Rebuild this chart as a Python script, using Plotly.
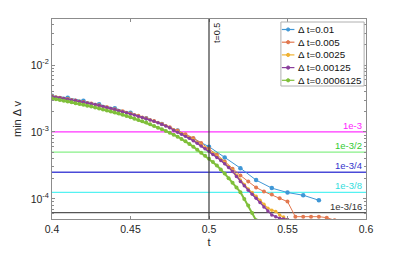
import numpy as np
import plotly.graph_objects as go

# ---------------- data (min Δv) ----------------
t_dt01 = [0.40, 0.41, 0.42, 0.43, 0.44, 0.45, 0.46, 0.47, 0.48, 0.49,
          0.50, 0.51, 0.52, 0.53, 0.54, 0.55, 0.56, 0.57]
v_dt01 = [34.7, 32.4, 29.2, 26.0, 22.6, 19.3, 16.0, 13.2, 10.5, 7.94,
          6.03, 4.17, 2.88, 1.91, 1.45, 1.245, 1.135, 0.955]          # x 1e-4

t_dt005 = [0.400, 0.405, 0.410, 0.415, 0.420, 0.425, 0.430, 0.435, 0.440, 0.445,
           0.450, 0.455, 0.460, 0.465, 0.470, 0.475, 0.480, 0.485, 0.490, 0.495,
           0.500, 0.505, 0.510, 0.515, 0.520, 0.525, 0.530, 0.535, 0.540, 0.545,
           0.550, 0.555, 0.560, 0.565, 0.570, 0.575, 0.580]
v_dt005 = [34.2, 32.5, 31.0, 29.5, 28.1, 26.5, 25.0, 23.4, 21.9, 20.3,
           18.8, 17.5, 16.0, 14.6, 13.2, 11.8, 10.5, 9.23, 8.13, 6.84,
           5.62, 4.57, 3.63, 2.82, 2.24, 1.82, 1.48, 1.29, 1.16, 1.02,
           0.912, 0.543, 0.543, 0.543, 0.543, 0.525, 0.479]            # x 1e-4

v_dt0025 = [34.0, 33.2, 32.5, 31.7, 31.0, 30.2, 29.5, 28.7, 28.0, 27.2,
            26.4, 25.7, 24.9, 24.1, 23.3, 22.5, 21.7, 20.9, 20.2, 19.5,
            18.7, 18.0, 17.3, 16.6, 15.9, 15.2, 14.5, 13.8, 13.1, 12.4,
            11.7, 10.8, 10.1, 9.45, 8.84, 8.26, 7.64, 6.98, 6.38, 5.80,
            5.30, 4.78, 4.32, 3.88, 3.47, 3.05, 2.66, 2.26, 1.91, 1.64,
            1.41, 1.245, 1.10, 0.955, 0.832, 0.724, 0.676, 0.646, 0.575, 0.537,
            0.490]                                                      # x 1e-4

v_dt00125 = [33.9, 33.1, 32.4, 31.6, 30.9, 30.1, 29.4, 28.6, 27.9, 27.1,
             26.3, 25.6, 24.8, 24.0, 23.2, 22.4, 21.6, 20.8, 20.1, 19.4,
             18.6, 17.9, 17.2, 16.5, 15.8, 15.1, 14.4, 13.7, 13.0, 12.3,
             11.6, 10.6, 9.89, 9.23, 8.61, 8.04, 7.41, 6.76, 6.17, 5.62,
             5.13, 4.62, 4.17, 3.76, 3.35, 2.95, 2.57, 2.16, 1.82, 1.57,
             1.35, 1.17, 1.02, 0.881, 0.759, 0.661, 0.575, 0.543, 0.513, 0.501,
             0.490]                                                     # x 1e-4

v_dt0006 = [31.6, 30.8, 30.1, 29.3, 28.5, 27.7, 26.9, 26.2, 25.4, 24.6,
            23.9, 23.1, 22.4, 21.6, 20.9, 20.2, 19.5, 18.8, 18.0, 17.3,
            16.6, 15.8, 15.1, 14.5, 13.8, 13.0, 12.3, 11.6, 11.0, 10.35,
            9.77, 9.12, 8.51, 7.85, 7.24, 6.61, 6.03, 5.43, 4.90, 4.42,
            3.98, 3.55, 3.16, 2.75, 2.40, 2.04, 1.74, 1.48, 1.26, 1.00,
            0.794, 0.617, 0.479]                                        # x 1e-4

dense_t0 = 0.40
dense_step = 0.0025
value_unit = 1e-4

series_names = ["Δ t=0.01", "Δ t=0.005", "Δ t=0.0025", "Δ t=0.00125", "Δ t=0.0006125"]
series_colors = ["#3f97d6", "#e2784f", "#f0b232", "#8a3f9c", "#7fbf3a"]

thresholds = [1e-3, 1e-3 / 2, 1e-3 / 4, 1e-3 / 8, 1e-3 / 16]
threshold_labels = ["1e-3", "1e-3/2", "1e-3/4", "1e-3/8", "1e-3/16"]
threshold_colors = ["#ff33ff", "#88f088", "#4a4ad8", "#55f2f2", "#555555"]
threshold_text_colors = ["#ff22ff", "#33cc33", "#3333cc", "#33dddd", "#333333"]

t_mark = 0.5
x_ticks = [0.4, 0.45, 0.5, 0.55, 0.6]
y_ticks = [1e-4, 1e-3, 1e-2]
y_ticktext = ["10<sup>-4</sup>", "10<sup>-3</sup>", "10<sup>-2</sup>"]


def dense_t(vals):
    return [round(dense_t0 + dense_step * i, 6) for i in range(len(vals))]


FONT = "Liberation Sans, Arial, Helvetica, sans-serif"

fig = go.Figure()

series = [
    (t_dt01, v_dt01, 4.5, 1.0),
    (t_dt005, v_dt005, 4.0, 1.0),
    (dense_t(v_dt0025), v_dt0025, 3.5, 1.2),
    (dense_t(v_dt00125), v_dt00125, 3.5, 1.4),
    (dense_t(v_dt0006), v_dt0006, 4.0, 2.0),
]
for (tx, vy, ms, lw), name, col in zip(series, series_names, series_colors):
    fig.add_trace(go.Scatter(
        x=tx, y=np.array(vy) * value_unit, name=name, mode="lines+markers",
        line=dict(color=col, width=lw),
        marker=dict(color=col, size=ms, symbol="circle"),
        showlegend=False,
    ))

# threshold lines and labels
for val, lab, lc, tc in zip(thresholds, threshold_labels, threshold_colors, threshold_text_colors):
    fig.add_shape(type="line", xref="paper", x0=0, x1=1, yref="y", y0=val, y1=val,
                  line=dict(color=lc, width=1.3), layer="below")
    fig.add_annotation(text=lab, xref="paper", x=0.995, xanchor="right",
                       yref="y", y=np.log10(val), yanchor="bottom", yshift=-1,
                       showarrow=False, font=dict(family=FONT, size=9.5, color=tc))

# vertical line t = 0.5
fig.add_shape(type="line", xref="x", x0=t_mark, x1=t_mark, yref="paper", y0=0, y1=1,
              line=dict(color="#3a3a3a", width=1.2))
fig.add_annotation(text="t=0.5", xref="x", x=t_mark, xanchor="left", xshift=1,
                   yref="paper", y=1, yanchor="top", yshift=-2, textangle=-90,
                   showarrow=False, font=dict(family=FONT, size=9, color="#222"))

# compact legend box (drawn in paper coordinates)
leg_x0, leg_x1, leg_y0, leg_y1 = 0.729, 0.994, 0.665, 0.985
leg_row_top, leg_row_gap = 0.9475, 0.0635
sym_x0, sym_x1, text_x = 0.732, 0.772, 0.776
fig.add_shape(type="rect", xref="paper", yref="paper", x0=leg_x0, x1=leg_x1,
              y0=leg_y0, y1=leg_y1, line=dict(color="#b0b0b0", width=1),
              fillcolor="white", layer="above")
for i, (name, col) in enumerate(zip(series_names, series_colors)):
    yy = leg_row_top - i * leg_row_gap
    fig.add_shape(type="line", xref="paper", yref="paper", x0=sym_x0, x1=sym_x1,
                  y0=yy, y1=yy, line=dict(color=col, width=1.2), layer="above")
    fig.add_shape(type="circle", xref="paper", yref="paper",
                  xsizemode="pixel", ysizemode="pixel",
                  xanchor=(sym_x0 + sym_x1) / 2, yanchor=yy,
                  x0=-1.6, x1=1.6, y0=-1.6, y1=1.6,
                  line=dict(color=col, width=1), fillcolor=col, layer="above")
    fig.add_annotation(text=name, xref="paper", yref="paper", x=text_x, y=yy,
                       xanchor="left", yanchor="middle", showarrow=False,
                       font=dict(family=FONT, size=9.8, color="#111"))

minor_vals = [m * 10.0 ** k for k in (-5, -4, -3, -2) for m in range(2, 10)]

# the page body adds an 8px offset, so the figure is slightly smaller than the window
fig.update_layout(
    width=397, height=245,
    margin=dict(l=44, r=39, t=11, b=34, autoexpand=False),
    paper_bgcolor="white", plot_bgcolor="white",
    font=dict(family=FONT, size=10, color="#262626"),
    showlegend=False,
    xaxis=dict(range=[0.4, 0.6], tickvals=x_ticks, ticktext=[str(v) for v in x_ticks],
               showgrid=False, zeroline=False, showline=True, linecolor="#8c8c8c",
               linewidth=1, mirror="ticks", ticks="inside", ticklen=3,
               tickcolor="#8c8c8c", automargin=False,
               title=dict(text="t", font=dict(size=11), standoff=4),
               tickfont=dict(size=10.5)),
    yaxis=dict(type="log", range=[-4.3, -1.313], tickvals=y_ticks, ticktext=y_ticktext,
               showgrid=False, zeroline=False, showline=True, linecolor="#8c8c8c",
               linewidth=1, mirror="ticks", ticks="inside", ticklen=3,
               tickcolor="#8c8c8c", automargin=False,
               minor=dict(tickvals=minor_vals, ticks="inside", ticklen=2, tickcolor="#8c8c8c"),
               title=dict(text="min Δ v", font=dict(size=11), standoff=6),
               tickfont=dict(size=10.5)),
)

fig.write_html("out.html")
